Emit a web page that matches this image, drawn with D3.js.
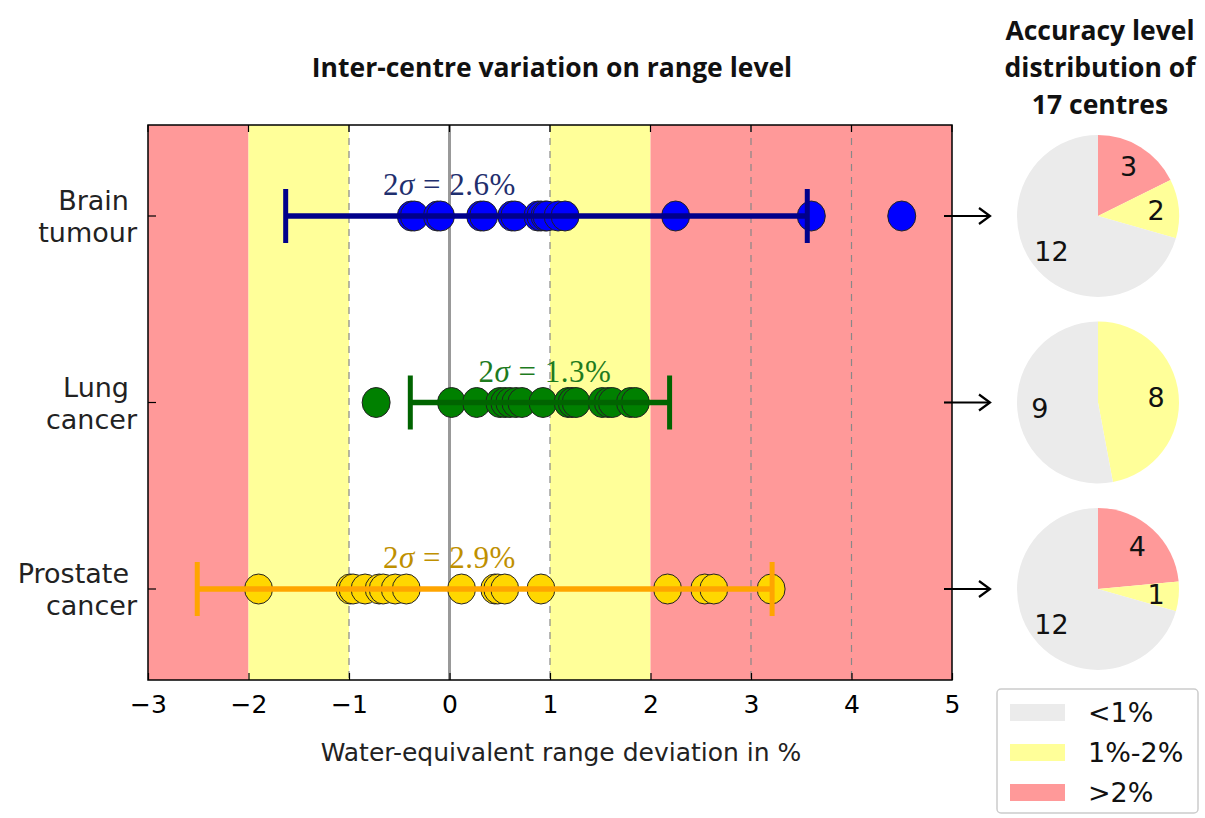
<!DOCTYPE html>
<html>
<head>
<meta charset="utf-8">
<script src="https://cdn.jsdelivr.net/npm/d3@7"></script>
<style>
  body { margin: 0; background: #fff; }
  svg { display: block; }
</style>
</head>
<body>
<script>
// data
var rows = ["Brain tumour", "Lung cancer", "Prostate cancer"];
var brainValues = [-0.38, -0.35, -0.12, -0.09, 0.31, 0.34, 0.62, 0.65, 0.88, 0.91, 0.95, 0.97, 1.08, 1.15, 2.25, 3.60, 4.50];
var lungValues = [-0.73, 0.02, 0.27, 0.50, 0.55, 0.60, 0.66, 0.72, 0.93, 1.18, 1.22, 1.26, 1.52, 1.58, 1.62, 1.80, 1.85];
var prostateValues = [-1.90, -0.99, -0.96, -0.84, -0.70, -0.66, -0.54, -0.43, 0.12, 0.45, 0.48, 0.55, 0.91, 2.17, 2.54, 2.63, 3.20];
var errLow = [-1.63, -0.39, -2.51];
var errHigh = [3.56, 2.19, 3.21];
var twoSigma = [2.6, 1.3, 2.9];
var sigmaLabelAt = [0.0, 0.95, 0.0];
var levels = ["<1%", "1%-2%", ">2%"];
var pieCounts = [[12, 2, 3], [9, 8, 0], [12, 1, 4]];
var xTicks = [-3, -2, -1, 0, 1, 2, 3, 4, 5];
var bands = [[-3, -2, 2], [-2, -1, 1], [-1, 1, 0], [1, 2, 1], [2, 5, 2]];

var W = 1205, H = 818;
var svg = d3.select("body").append("svg").attr("width", W).attr("height", H);

var pLeft = 148, pRight = 952, pTop = 125, pBottom = 680;
var x = d3.scaleLinear().domain([-3, 5]).range([pLeft, pRight]);
var y = d3.scalePoint().domain(rows).range([216, 589]);

var levelColor = ["#ebebeb", "#ffff99", "#ff9999"];
var dotFill = ["#0000ff", "#008000", "#ffd700"];
var barColor = ["#00008b", "#006400", "#ffa500"];
var textColor = ["#1f2f6e", "#1e7b1e", "#bf9000"];
var allValues = [brainValues, lungValues, prostateValues];
var sansFont = "Open Sans, DejaVu Sans, sans-serif";

// background bands
svg.selectAll(".band").data(bands).enter().append("rect")
    .attr("x", d => x(d[0])).attr("width", d => x(d[1]) - x(d[0]))
    .attr("y", pTop).attr("height", pBottom - pTop)
    .attr("fill", d => d[2] == 0 ? "#fff" : levelColor[d[2]]);

// grid
svg.selectAll(".grid").data([-1, 1, 3, 4]).enter().append("line")
    .attr("x1", d => x(d)).attr("x2", d => x(d))
    .attr("y1", pTop).attr("y2", pBottom)
    .attr("stroke", "#888").attr("stroke-width", 1.2).attr("stroke-dasharray", "7,6");
svg.append("line").attr("x1", x(0)).attr("x2", x(0)).attr("y1", pTop).attr("y2", pBottom)
    .attr("stroke", "#999").attr("stroke-width", 3);

// dots and error bars
rows.forEach(function (r, i) {
    var cy = y(r);
    var g = svg.append("g");
    g.selectAll("ellipse").data(allValues[i]).enter().append("ellipse")
        .attr("cx", d => x(d)).attr("cy", cy)
        .attr("rx", 14).attr("ry", 15)
        .attr("fill", dotFill[i]).attr("stroke", "#222").attr("stroke-width", 1);
    var lo = errLow[i], hi = errHigh[i];
    g.append("line").attr("x1", x(lo)).attr("x2", x(hi)).attr("y1", cy).attr("y2", cy)
        .attr("stroke", barColor[i]).attr("stroke-width", 5.5);
    [lo, hi].forEach(function (v) {
        g.append("line").attr("x1", x(v)).attr("x2", x(v)).attr("y1", cy - 27).attr("y2", cy + 27)
            .attr("stroke", barColor[i]).attr("stroke-width", 5);
    });
    var t = g.append("text").attr("x", x(sigmaLabelAt[i])).attr("y", cy - 21)
        .attr("text-anchor", "middle")
        .attr("font-family", "Liberation Serif, DejaVu Serif, serif").attr("font-size", 31)
        .attr("letter-spacing", 0.5)
        .attr("fill", textColor[i]);
    t.append("tspan").text("2");
    t.append("tspan").attr("font-style", "italic").text("σ");
    t.append("tspan").text(" = " + twoSigma[i].toFixed(1) + "%");
});

// frame
svg.append("rect").attr("x", pLeft).attr("y", pTop).attr("width", pRight - pLeft).attr("height", pBottom - pTop)
    .attr("fill", "none").attr("stroke", "#000").attr("stroke-width", 1.5);

// x axis with inward ticks
var xAxis = svg.append("g").attr("transform", "translate(0," + pBottom + ")")
    .call(d3.axisBottom(x).tickValues(xTicks).tickSizeInner(-7).tickSizeOuter(0).tickPadding(15)
        .tickFormat(d => d < 0 ? "\u2212" + Math.abs(d) : d));
xAxis.select(".domain").remove();
xAxis.selectAll("text").attr("font-family", "DejaVu Sans, sans-serif").attr("font-size", 25).attr("fill", "#000");
xAxis.selectAll("line").attr("stroke", "#000").attr("stroke-width", 1.2);
svg.selectAll(".topTick").data(xTicks).enter().append("line")
    .attr("x1", d => x(d)).attr("x2", d => x(d)).attr("y1", pTop).attr("y2", pTop + 7)
    .attr("stroke", "#000").attr("stroke-width", 1.2);

// y ticks on both sides, inward
rows.forEach(function (r) {
    svg.append("line").attr("x1", pLeft).attr("x2", pLeft + 8).attr("y1", y(r)).attr("y2", y(r)).attr("stroke", "#000").attr("stroke-width", 1.2);
    svg.append("line").attr("x1", pRight - 8).attr("x2", pRight).attr("y1", y(r)).attr("y2", y(r)).attr("stroke", "#000").attr("stroke-width", 1.2);
});

// y labels, two lines each
rows.forEach(function (r) {
    var parts = r.split(" ");
    parts.forEach(function (p, k) {
        svg.append("text").attr("x", k == 0 ? 129 : 137).attr("y", y(r) - 6 + k * 32)
            .attr("text-anchor", "end")
            .attr("font-family", "DejaVu Sans, sans-serif").attr("font-size", 27).attr("fill", "#222")
            .text(p);
    });
});

// titles
svg.append("text").attr("x", 552).attr("y", 77).attr("text-anchor", "middle")
    .attr("font-family", sansFont).attr("font-weight", "bold").attr("font-size", 26.5)
    .attr("fill", "#111").text("Inter-centre variation on range level");
["Accuracy level", "distribution of", "17 centres"].forEach(function (s, k) {
    svg.append("text").attr("x", 1100).attr("y", 40 + k * 37).attr("text-anchor", "middle")
        .attr("font-family", sansFont).attr("font-weight", "bold").attr("font-size", 26.5)
        .attr("fill", "#111").text(s);
});
svg.append("text").attr("x", 561).attr("y", 761).attr("text-anchor", "middle")
    .attr("font-family", "DejaVu Sans, sans-serif").attr("font-size", 25).attr("fill", "#222")
    .text("Water-equivalent range deviation in %");

// arrows
rows.forEach(function (r) {
    var cy = y(r);
    svg.append("line").attr("x1", 944).attr("x2", 990).attr("y1", cy).attr("y2", cy).attr("stroke", "#000").attr("stroke-width", 2);
    svg.append("path").attr("d", "M979," + (cy - 8) + " L990," + cy + " L979," + (cy + 8))
        .attr("fill", "none").attr("stroke", "#000").attr("stroke-width", 2.2);
});

// pies: red first clockwise from top, then yellow, then grey
var pieR = 81;
var pie = d3.pie().sort(null).value(d => d.v);
var arc = d3.arc().innerRadius(0).outerRadius(pieR);
var labelArc = d3.arc().innerRadius(pieR * 0.72).outerRadius(pieR * 0.72);
rows.forEach(function (r, i) {
    var c = pieCounts[i];
    var data = [{ v: c[2], k: 2 }, { v: c[1], k: 1 }, { v: c[0], k: 0 }];
    var g = svg.append("g").attr("transform", "translate(1098," + y(r) + ")");
    var arcs = pie(data).filter(d => d.data.v > 0);
    g.selectAll("path").data(arcs).enter().append("path")
        .attr("d", arc).attr("fill", d => levelColor[d.data.k]);
    g.selectAll("text").data(arcs).enter().append("text")
        .attr("transform", d => "translate(" + labelArc.centroid(d) + ")")
        .attr("text-anchor", "middle").attr("dy", "0.36em")
        .attr("font-family", "DejaVu Sans, sans-serif").attr("font-size", 27).attr("fill", "#111")
        .text(d => d.data.v);
});

// legend
var lg = svg.append("g");
lg.append("rect").attr("x", 997).attr("y", 689).attr("width", 201).attr("height", 124).attr("rx", 4)
    .attr("fill", "#fff").attr("stroke", "#ccc").attr("stroke-width", 1.5);
levels.forEach(function (l, k) {
    var cy = 712 + k * 40;
    lg.append("rect").attr("x", 1010).attr("y", cy - 8).attr("width", 55).attr("height", 17).attr("fill", levelColor[k]);
    lg.append("text").attr("x", 1088).attr("y", cy + 10)
        .attr("font-family", "DejaVu Sans, sans-serif").attr("font-size", 27).attr("fill", "#111").text(l);
});
</script>
</body>
</html>
